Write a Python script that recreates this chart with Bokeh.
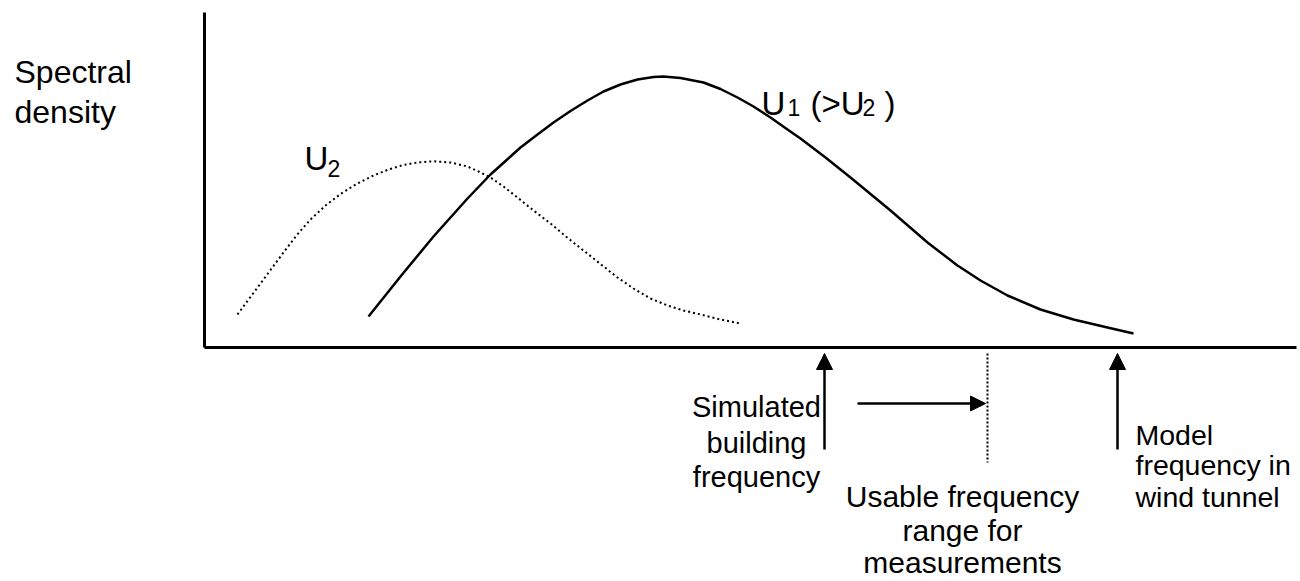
from bokeh.plotting import figure
from bokeh.models import Range1d, Arrow, NormalHead
from bokeh.core.properties import value
from bokeh.embed import file_html
from bokeh.resources import INLINE

# ---- data (frequency units, spectral density units; origin at axes corner) ----
u1_freq = [163, 195, 228, 262, 285, 315, 332, 348, 365, 382, 398, 415, 432,
           448, 458, 475, 498, 515, 532, 548, 565, 582, 595, 620, 645, 685,
           722, 752, 775, 802, 835, 868, 902, 928]
u1_density = [31, 71, 111, 149, 173, 200, 213, 225, 236.5, 247, 256, 263, 268,
              270.5, 271, 269.5, 265, 258.5, 250, 241, 230, 218, 209, 190, 170,
              137, 105, 82, 67, 52, 38, 28, 20, 14]

u2_freq = [32, 52, 65, 78, 91, 105, 120, 135, 151, 168, 183, 198, 212, 228,
           245, 262, 273, 285, 298, 312, 328, 345, 361, 378, 395, 412, 428,
           445, 462, 478, 495, 515, 535]
u2_density = [33, 60, 77.5, 95, 112, 128, 142, 153.5, 163.5, 172, 178, 182.5,
              185, 186.3, 185, 181, 176, 170, 161, 150, 137, 124, 110.5, 97,
              83.5, 70, 59, 49, 42, 37, 33, 28, 24]

f_building = 619      # simulated building frequency
f_usable_limit = 782  # upper end of usable frequency range
f_model = 912         # model frequency in wind tunnel

FONT = value("Liberation Sans")
DY = 11  # baseline correction

p = figure(width=1300, height=581, output_backend="svg", toolbar_location=None,
           x_range=Range1d(-205, 1095), y_range=Range1d(-234, 347),
           x_axis_type=None, y_axis_type=None, min_border=0)
p.grid.visible = False
p.outline_line_color = None
p.background_fill_color = "white"

# axes drawn as plain lines
p.segment(x0=[-1, -1], y0=[0, 0], x1=[-1, 1091], y1=[335, 0],
          line_color="black", line_width=3)

# spectra
p.line(u1_freq, u1_density, line_color="black", line_width=2.5, line_join="round")
p.line(u2_freq, u2_density, line_color="black", line_width=2, line_dash="2 3")

# usable range boundary (dotted vertical)
p.segment(x0=[f_usable_limit], y0=[-6], x1=[f_usable_limit], y1=[-115],
          line_color="black", line_width=2, line_dash="2 2")

# arrows
for fx in (f_building, f_model):
    p.add_layout(Arrow(end=NormalHead(size=16, fill_color="black", line_color="black"),
                       x_start=fx, y_start=-102, x_end=fx, y_end=-6,
                       line_color="black", line_width=2.5))
p.add_layout(Arrow(end=NormalHead(size=15, fill_color="black", line_color="black"),
                   x_start=652, y_start=-56, x_end=f_usable_limit - 2, y_end=-56,
                   line_color="black", line_width=2.5))

def txt(x, y, s, size, align="left"):
    p.text(x=[x], y=[y + DY], text=[s], text_font=FONT, text_font_size=size,
           text_align=align, text_baseline="alphabetic", text_color="black")

# y label
txt(-191, 265, "Spectral", "32px")
txt(-191, 225, "density", "32px")

# U2 label
txt(99, 178, "U", "33px")
txt(122, 168, "2", "23px")

# U1 (>U2) label
txt(556, 233, "U", "33px")
txt(582, 229, "1", "23px")
txt(605, 233, "(>U", "33px")
txt(657, 229, "2", "23px")
txt(679, 233, ")", "33px")

# annotations
txt(551, -70, "Simulated", "29px", "center")
txt(551, -106, "building", "29px", "center")
txt(551, -140, "frequency", "29px", "center")

txt(757, -160, "Usable frequency", "30px", "center")
txt(757, -194, "range for", "30px", "center")
txt(757, -226, "measurements", "30px", "center")

txt(930, -98, "Model", "28.5px")
txt(930, -128, "frequency in", "28.5px")
txt(930, -160, "wind tunnel", "28.5px")

open("out.html", "w").write(file_html(p, INLINE))
